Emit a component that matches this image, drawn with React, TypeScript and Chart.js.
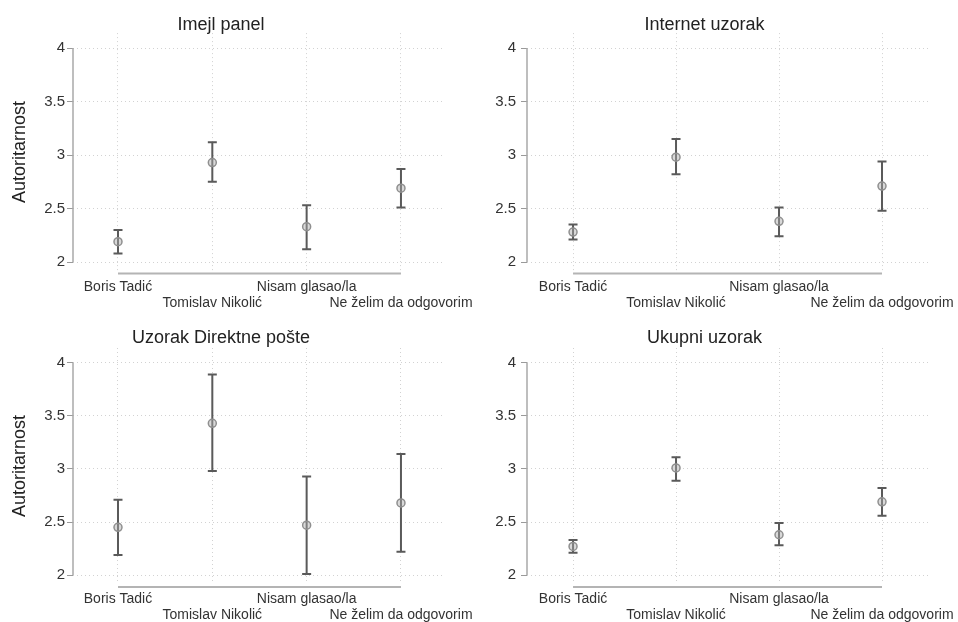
import React, { useEffect, useRef } from "react";
import { Chart, registerables } from "chart.js";

Chart.register(...registerables);

// ---- data ----
const categories = ["Boris Tadić", "Tomislav Nikolić", "Nisam glasao/la", "Ne želim da odgovorim"];
const yTicks = [2, 2.5, 3, 3.5, 4];
const yTitle = "Autoritarnost";

const panelTitles = ["Imejl panel", "Internet uzorak", "Uzorak Direktne pošte", "Ukupni uzorak"];

const imejlMean = [2.19, 2.93, 2.33, 2.69];
const imejlLow = [2.08, 2.75, 2.12, 2.51];
const imejlHigh = [2.30, 3.12, 2.53, 2.87];

const internetMean = [2.28, 2.98, 2.38, 2.71];
const internetLow = [2.21, 2.82, 2.24, 2.48];
const internetHigh = [2.35, 3.15, 2.51, 2.94];

const postaMean = [2.45, 3.43, 2.47, 2.68];
const postaLow = [2.19, 2.98, 2.01, 2.22];
const postaHigh = [2.71, 3.89, 2.93, 3.14];

const ukupnoMean = [2.27, 3.01, 2.38, 2.69];
const ukupnoLow = [2.21, 2.89, 2.28, 2.56];
const ukupnoHigh = [2.33, 3.11, 2.49, 2.82];

const FONT = "'Liberation Sans', Arial, sans-serif";

const errorBarPlugin = {
  id: "errorBars",
  beforeDatasetsDraw(chart: any, _args: any, opts: any) {
    const { ctx, chartArea } = chart;
    const x = chart.scales.x;
    const y = chart.scales.y;
    ctx.save();
    // y axis line (from first to last tick)
    ctx.strokeStyle = "#a8a8a8";
    ctx.lineWidth = 1.5;
    ctx.beginPath();
    ctx.moveTo(chartArea.left, y.getPixelForValue(yTicks[0]));
    ctx.lineTo(chartArea.left, y.getPixelForValue(yTicks[yTicks.length - 1]));
    ctx.stroke();
    // x axis line (offset, from first to last category)
    const by = chartArea.bottom + opts.xLineOffset;
    ctx.lineWidth = 2;
    ctx.strokeStyle = "#b4b4b4";
    ctx.beginPath();
    ctx.moveTo(x.getPixelForValue(1), by);
    ctx.lineTo(x.getPixelForValue(categories.length), by);
    ctx.stroke();
    // error bars
    ctx.strokeStyle = "#5a5a5a";
    ctx.lineWidth = 2;
    const low: number[] = opts.low;
    const high: number[] = opts.high;
    low.forEach((lo, i) => {
      const px = x.getPixelForValue(i + 1);
      const p1 = y.getPixelForValue(lo);
      const p2 = y.getPixelForValue(high[i]);
      ctx.beginPath();
      ctx.moveTo(px, p1);
      ctx.lineTo(px, p2);
      ctx.moveTo(px - 4.5, p1);
      ctx.lineTo(px + 4.5, p1);
      ctx.moveTo(px - 4.5, p2);
      ctx.lineTo(px + 4.5, p2);
      ctx.stroke();
    });
    ctx.restore();
  },
};

type PanelProps = {
  title: string;
  mean: number[];
  low: number[];
  high: number[];
  showYTitle: boolean;
  left: number;
  top: number;
  yAxisWidth: number;
  padRight: number;
  titlePadTop: number;
  titlePadBottom: number;
  xAxisHeight: number;
  xTickGap: number;
  yTickPadding: number;
  xMin: number;
  xMax: number;
  xLineOffset: number;
};

const W = 479;
const H = 311;

function Panel(p: PanelProps) {
  const ref = useRef<HTMLCanvasElement | null>(null);
  useEffect(() => {
    if (!ref.current) return;
    const chart = new Chart(ref.current, {
      type: "scatter",
      data: {
        datasets: [
          {
            data: p.mean.map((m, i) => ({ x: i + 1, y: m })),
            pointRadius: 4,
            pointHoverRadius: 4,
            pointBackgroundColor: "rgba(170,170,170,0.45)",
            pointBorderColor: "#8f8f8f",
            pointBorderWidth: 1.5,
            showLine: false,
          },
        ],
      },
      options: {
        animation: false,
        responsive: false,
        events: [],
        layout: { padding: { left: 0, right: p.padRight, top: 0, bottom: 0 } },
        plugins: {
          legend: { display: false },
          tooltip: { enabled: false },
          title: {
            display: true,
            text: p.title,
            color: "#222",
            font: { family: FONT, size: 18, weight: "normal", lineHeight: 0.95 },
            padding: { top: p.titlePadTop, bottom: p.titlePadBottom },
          },
          errorBars: { low: p.low, high: p.high, xLineOffset: p.xLineOffset },
        } as any,
        scales: {
          x: {
            type: "linear",
            min: p.xMin,
            max: p.xMax,
            afterBuildTicks: (scale: any) => {
              scale.ticks = categories.map((_, i) => ({ value: i + 1 }));
            },
            afterFit: (scale: any) => {
              scale.height = p.xAxisHeight;
            },
            ticks: {
              autoSkip: false,
              maxRotation: 0,
              minRotation: 0,
              padding: 0,
              color: "#333",
              font: { family: FONT, size: 14, lineHeight: 1.12 },
              callback: (v: any) => {
                const idx = Math.round(Number(v)) - 1;
                const label = categories[idx] ?? "";
                return idx % 2 === 1 ? ["", label] : label;
              },
            },
            grid: {
              color: "#d2d2d2",
              lineWidth: 1,
              drawTicks: true,
              tickLength: p.xTickGap,
              tickColor: "rgba(0,0,0,0)",
            },
            border: { display: false, dash: [1, 3] },
          },
          y: {
            type: "linear",
            min: 1.916,
            max: 4.14,
            afterBuildTicks: (scale: any) => {
              scale.ticks = yTicks.map((v) => ({ value: v }));
            },
            afterFit: (scale: any) => {
              scale.width = p.yAxisWidth;
            },
            ticks: {
              padding: p.yTickPadding,
              color: "#333",
              font: { family: FONT, size: 15 },
              callback: (v: any) => String(v),
            },
            grid: {
              color: "#d2d2d2",
              lineWidth: 1,
              drawTicks: true,
              tickLength: 6,
              tickColor: "#9a9a9a",
              tickBorderDash: [],
              tickWidth: 1,
            },
            border: { display: false, dash: [1, 3] },
            title: {
              display: p.showYTitle,
              text: yTitle,
              color: "#222",
              font: { family: FONT, size: 18, lineHeight: 1.0 },
              padding: { top: 11, bottom: 0 },
            },
          },
        },
      },
      plugins: [errorBarPlugin],
    } as any);
    return () => chart.destroy();
  }, []);
  return (
    <canvas
      ref={ref}
      width={W}
      height={H}
      style={{ position: "absolute", left: p.left, top: p.top, width: W, height: H }}
    />
  );
}

export default function App() {
  const leftCol = { yAxisWidth: 73, padRight: 37, yTickPadding: 2, xMin: 0.523, xMax: 4.435 };
  const rightCol = { yAxisWidth: 48, padRight: 28, yTickPadding: 5, xMin: 0.553, xMax: 4.466 };
  const topRow = { titlePadTop: 16, titlePadBottom: 0, xAxisHeight: 40, xTickGap: 8.5, xLineOffset: 2.5 };
  const botRow = { titlePadTop: 18.5, titlePadBottom: 1.4, xAxisHeight: 38, xTickGap: 7.5, xLineOffset: 3 };
  return (
    <div style={{ position: "absolute", left: 0, top: 0, width: 958, height: 622, background: "#fff" }}>
      <Panel title={panelTitles[0]} mean={imejlMean} low={imejlLow} high={imejlHigh} showYTitle={true} left={0} top={0} {...leftCol} {...topRow} />
      <Panel title={panelTitles[1]} mean={internetMean} low={internetLow} high={internetHigh} showYTitle={false} left={479} top={0} {...rightCol} {...topRow} />
      <Panel title={panelTitles[2]} mean={postaMean} low={postaLow} high={postaHigh} showYTitle={true} left={0} top={311} {...leftCol} {...botRow} />
      <Panel title={panelTitles[3]} mean={ukupnoMean} low={ukupnoLow} high={ukupnoHigh} showYTitle={false} left={479} top={311} {...rightCol} {...botRow} />
    </div>
  );
}
